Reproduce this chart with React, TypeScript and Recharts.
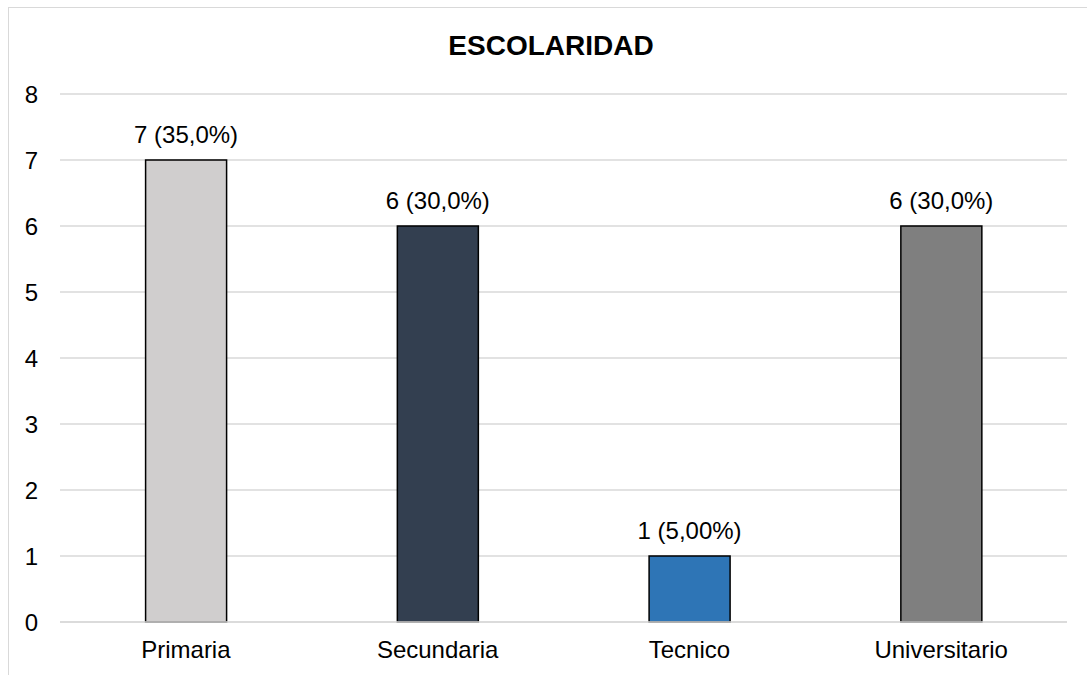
import { BarChart, Bar, XAxis, YAxis, CartesianGrid, Cell, LabelList } from 'recharts';

const categories = ['Primaria', 'Secundaria', 'Tecnico', 'Universitario'];
const counts = [7, 6, 1, 6];
const barLabels = ['7 (35,0%)', '6 (30,0%)', '1 (5,00%)', '6 (30,0%)'];
const barColors = ['#D0CECE', '#333F50', '#2E75B6', '#7F7F7F'];
const yTicks = [0, 1, 2, 3, 4, 5, 6, 7, 8];

const data = categories.map((name, i) => ({ name, value: counts[i], label: barLabels[i] }));

const font = '"Liberation Sans", Arial, sans-serif';

export default function App() {
  return (
    <div
      style={{
        position: 'fixed',
        left: 8,
        top: 7,
        width: 1079,
        height: 668,
        borderLeft: '1px solid #d9d9d9',
        borderTop: '1px solid #d9d9d9',
        fontFamily: font,
        background: '#fff',
      }}
    >
      <BarChart
        width={1078}
        height={667}
        data={data}
        margin={{ top: 86, right: 20, left: 0, bottom: 0 }}
        barCategoryGap="34%"
      >
        <text
          x={542}
          y={47}
          textAnchor="middle"
          style={{ fontFamily: font, fontSize: 28, fontWeight: 'bold', fill: '#000' }}
        >
          ESCOLARIDAD
        </text>
        <CartesianGrid vertical={false} stroke="#d9d9d9" strokeWidth={1.5} />
        <XAxis
          dataKey="name"
          axisLine={{ stroke: '#d9d9d9', strokeWidth: 1.5 }}
          tickLine={false}
          tickMargin={13}
          height={53}
          tick={{ fill: '#000', fontSize: 24, fontFamily: font }}
        />
        <YAxis
          domain={[0, 8]}
          ticks={yTicks}
          width={51}
          axisLine={false}
          tickLine={false}
          tickMargin={16}
          tick={{ fill: '#000', fontSize: 24, fontFamily: font }}
        />
        <Bar dataKey="value" stroke="#000" strokeWidth={1.5} isAnimationActive={false}>
          {data.map((d, i) => (
            <Cell key={d.name} fill={barColors[i]} />
          ))}
          <LabelList
            dataKey="label"
            position="top"
            offset={17}
            style={{ fill: '#000', fontSize: 24, fontFamily: font }}
          />
        </Bar>
      </BarChart>
    </div>
  );
}
